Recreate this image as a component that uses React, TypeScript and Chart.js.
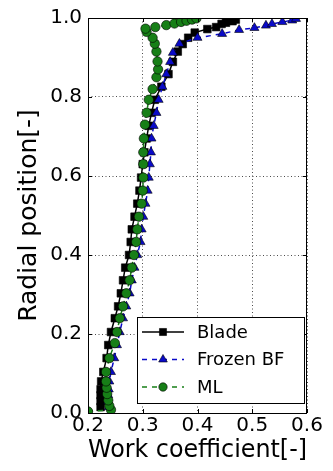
import React, { useEffect, useRef } from 'react';
import { Chart, registerables } from 'chart.js';

Chart.register(...registerables);

// Blade (black squares, solid)
const bladeR = [0.015, 0.03, 0.045, 0.06, 0.08, 0.104, 0.139, 0.172, 0.205, 0.24, 0.27, 0.303, 0.336, 0.368, 0.40, 0.433, 0.465, 0.497, 0.53, 0.563, 0.596, 0.63, 0.66, 0.695, 0.727, 0.76, 0.793, 0.826, 0.858, 0.889, 0.915, 0.934, 0.95, 0.963, 0.972, 0.977, 0.985, 0.988, 0.992, 0.996];
const bladeV = [0.223, 0.223, 0.223, 0.223, 0.224, 0.228, 0.234, 0.237, 0.242, 0.249, 0.255, 0.26, 0.264, 0.268, 0.275, 0.278, 0.280, 0.285, 0.29, 0.294, 0.297, 0.300, 0.303, 0.307, 0.311, 0.316, 0.322, 0.334, 0.347, 0.355, 0.364, 0.373, 0.383, 0.395, 0.418, 0.434, 0.444, 0.452, 0.464, 0.47];

// Frozen BF (blue triangles, dashed)
const bfR = [0.015, 0.03, 0.045, 0.06, 0.08, 0.104, 0.139, 0.172, 0.205, 0.24, 0.27, 0.303, 0.336, 0.368, 0.40, 0.433, 0.465, 0.497, 0.53, 0.563, 0.596, 0.63, 0.66, 0.695, 0.727, 0.76, 0.793, 0.826, 0.858, 0.889, 0.912, 0.935, 0.95, 0.96, 0.97, 0.975, 0.981, 0.985, 0.99, 0.994, 0.998];
const bfV = [0.238, 0.237, 0.237, 0.238, 0.239, 0.242, 0.248, 0.253, 0.258, 0.264, 0.27, 0.276, 0.28, 0.285, 0.29, 0.296, 0.298, 0.301, 0.305, 0.309, 0.311, 0.313, 0.315, 0.316, 0.32, 0.325, 0.329, 0.336, 0.343, 0.35, 0.355, 0.367, 0.4, 0.445, 0.476, 0.504, 0.525, 0.536, 0.555, 0.573, 0.58];

// ML (green circles, dashed)
const mlR = [0.004, 0.008, 0.018, 0.032, 0.048, 0.064, 0.08, 0.104, 0.139, 0.177, 0.205, 0.24, 0.27, 0.303, 0.336, 0.368, 0.40, 0.433, 0.465, 0.497, 0.53, 0.563, 0.596, 0.63, 0.66, 0.695, 0.73, 0.76, 0.793, 0.82, 0.85, 0.87, 0.89, 0.915, 0.935, 0.95, 0.965, 0.973, 0.977, 0.982, 0.986, 0.99, 0.993, 0.996, 0.999];
const mlV = [0.2, 0.242, 0.239, 0.237, 0.235, 0.234, 0.233, 0.233, 0.239, 0.249, 0.253, 0.258, 0.264, 0.27, 0.276, 0.28, 0.284, 0.288, 0.29, 0.293, 0.298, 0.300, 0.301, 0.301, 0.301, 0.302, 0.304, 0.307, 0.311, 0.318, 0.325, 0.328, 0.327, 0.325, 0.322, 0.318, 0.307, 0.305, 0.323, 0.343, 0.358, 0.37, 0.38, 0.39, 0.398];

const seriesNames = ['Blade', 'Frozen BF', 'ML'];
const xTickValues = [0.2, 0.3, 0.4, 0.5, 0.6];
const yTickValues = [0.0, 0.2, 0.4, 0.6, 0.8, 1.0];

const FONT = '"DejaVu Sans", sans-serif';
const BLUE = '#0a0ac8';
const GREEN = '#177f17';
const GRID_DASH = [1, 2.5];

function pts(xs: number[], ys: number[]) {
  return xs.map((x, i) => ({ x, y: ys[i] }));
}

function drawMarker(ctx: CanvasRenderingContext2D, style: string, x: number, y: number, r: number, fill: string) {
  ctx.save();
  ctx.fillStyle = fill;
  ctx.strokeStyle = '#000';
  ctx.lineWidth = 0.6;
  ctx.setLineDash([]);
  ctx.beginPath();
  if (style === 'rect') {
    const s = r * Math.SQRT1_2;
    ctx.rect(x - s, y - s, 2 * s, 2 * s);
  } else if (style === 'triangle') {
    const h = r * 1.5;
    ctx.moveTo(x, y - h * 0.6667);
    ctx.lineTo(x + r * 0.866, y + h * 0.3333);
    ctx.lineTo(x - r * 0.866, y + h * 0.3333);
    ctx.closePath();
  } else {
    ctx.arc(x, y, r, 0, Math.PI * 2);
  }
  ctx.fill();
  ctx.stroke();
  ctx.restore();
}

const framePlugin = {
  id: 'frameAndLegend',
  afterDatasetsDraw(chart: any) {
    const { ctx, chartArea: a, scales } = chart;
    ctx.save();
    ctx.strokeStyle = '#000';
    ctx.lineWidth = 1;
    ctx.setLineDash([]);
    ctx.strokeRect(Math.round(a.left) + 0.5, Math.round(a.top) + 0.5, Math.round(a.right - a.left) - 1, Math.round(a.bottom - a.top));
    // inward ticks
    const tl = 4;
    ctx.beginPath();
    scales.x.ticks.forEach((t: any) => {
      const px = Math.round(scales.x.getPixelForValue(t.value)) + 0.5;
      ctx.moveTo(px, a.bottom); ctx.lineTo(px, a.bottom - tl);
      ctx.moveTo(px, a.top); ctx.lineTo(px, a.top + tl);
    });
    scales.y.ticks.forEach((t: any) => {
      const py = Math.round(scales.y.getPixelForValue(t.value)) + 0.5;
      ctx.moveTo(a.left, py); ctx.lineTo(a.left + tl, py);
      ctx.moveTo(a.right, py); ctx.lineTo(a.right - tl, py);
    });
    ctx.stroke();

    // legend
    const bx = 137.5, by = 317.5, bw = 167, bh = 86;
    ctx.fillStyle = '#fff';
    ctx.fillRect(bx, by, bw, bh);
    ctx.strokeRect(bx, by, bw, bh);
    const rows = [
      { name: seriesNames[0], color: '#000', dash: [] as number[], style: 'rect', r: 5 },
      { name: seriesNames[1], color: BLUE, dash: [5, 5], style: 'triangle', r: 5 },
      { name: seriesNames[2], color: GREEN, dash: [5, 5], style: 'circle', r: 4.2 },
    ];
    rows.forEach((row, i) => {
      const cy = 332 + i * 27.5;
      ctx.strokeStyle = row.color;
      ctx.lineWidth = 1.5;
      ctx.setLineDash(row.dash);
      ctx.lineDashOffset = 0;
      ctx.beginPath();
      ctx.moveTo(142, cy);
      ctx.lineTo(184, cy);
      ctx.stroke();
      drawMarker(ctx, row.style, 163, cy, row.r, row.color);
      ctx.fillStyle = '#000';
      ctx.font = `18px ${FONT}`;
      ctx.textBaseline = 'middle';
      ctx.textAlign = 'left';
      ctx.fillText(row.name, 197, cy + 1);
    });
    ctx.restore();
  },
};

export default function App() {
  const ref = useRef<HTMLCanvasElement | null>(null);
  useEffect(() => {
    document.body.style.margin = '0';
    const canvas = ref.current;
    if (!canvas) return;
    const gridStyle = {
      color: 'rgba(0,0,0,0.7)',
      lineWidth: 1,
      drawTicks: false,
    };
    const chart = new Chart(canvas, {
      type: 'scatter',
      data: {
        datasets: [
          {
            label: seriesNames[0],
            data: pts(bladeV, bladeR),
            showLine: true,
            borderColor: '#000',
            borderWidth: 1.5,
            backgroundColor: '#000',
            pointStyle: 'rect',
            pointRadius: 5.4,
            pointBorderColor: '#000',
            pointBorderWidth: 0.6,
            pointBackgroundColor: '#000',
            order: 2,
          },
          {
            label: seriesNames[1],
            data: pts(bfV, bfR),
            showLine: true,
            borderColor: BLUE,
            borderWidth: 1.5,
            borderDash: [5, 5],
            backgroundColor: BLUE,
            pointStyle: 'triangle',
            pointRadius: 5.2,
            pointBorderColor: '#000',
            pointBorderWidth: 0.6,
            pointBackgroundColor: BLUE,
            order: 1,
          },
          {
            label: seriesNames[2],
            data: pts(mlV, mlR),
            showLine: true,
            borderColor: GREEN,
            borderWidth: 1.5,
            borderDash: [5, 5],
            backgroundColor: GREEN,
            pointStyle: 'circle',
            pointRadius: 4.7,
            pointBorderColor: '#000',
            pointBorderWidth: 0.6,
            pointBackgroundColor: GREEN,
            order: 0,
          },
        ],
      },
      options: {
        responsive: false,
        animation: false,
        layout: { padding: { top: 17, right: 26, left: 0, bottom: 0 } },
        plugins: {
          legend: { display: false },
          tooltip: { enabled: false },
        },
        scales: {
          x: {
            type: 'linear',
            min: 0.2,
            max: 0.6,
            afterFit: (s: any) => { s.height = 58; },
            afterBuildTicks: (s: any) => { s.ticks = xTickValues.map((v) => ({ value: v })); },
            grid: { ...gridStyle },
            border: { display: false, dash: GRID_DASH },
            ticks: {
              color: '#000',
              font: { family: FONT, size: 20 },
              padding: 1,
              maxRotation: 0,
              callback: (v: any) => Number(v).toFixed(1),
            },
            title: {
              display: true,
              text: 'Work coefficient[-]',
              color: '#000',
              font: { family: FONT, size: 25 },
              padding: { top: 0, bottom: 6 },
            },
          },
          y: {
            type: 'linear',
            min: 0,
            max: 1,
            afterFit: (s: any) => { s.width = 88; },
            afterBuildTicks: (s: any) => { s.ticks = yTickValues.map((v) => ({ value: v })); },
            grid: { ...gridStyle },
            border: { display: false, dash: GRID_DASH },
            ticks: {
              color: '#000',
              font: { family: FONT, size: 20 },
              padding: 6,
              callback: (v: any) => Number(v).toFixed(1),
            },
            title: {
              display: true,
              text: 'Radial position[-]',
              color: '#000',
              font: { family: FONT, size: 25 },
              padding: { top: 14.5, bottom: 0 },
            },
          },
        },
      },
      plugins: [framePlugin],
    } as any);
    return () => chart.destroy();
  }, []);
  return (
    <div style={{ width: 333, height: 471, background: '#fff' }}>
      <canvas ref={ref} width={333} height={471} style={{ display: 'block' }} />
    </div>
  );
}
